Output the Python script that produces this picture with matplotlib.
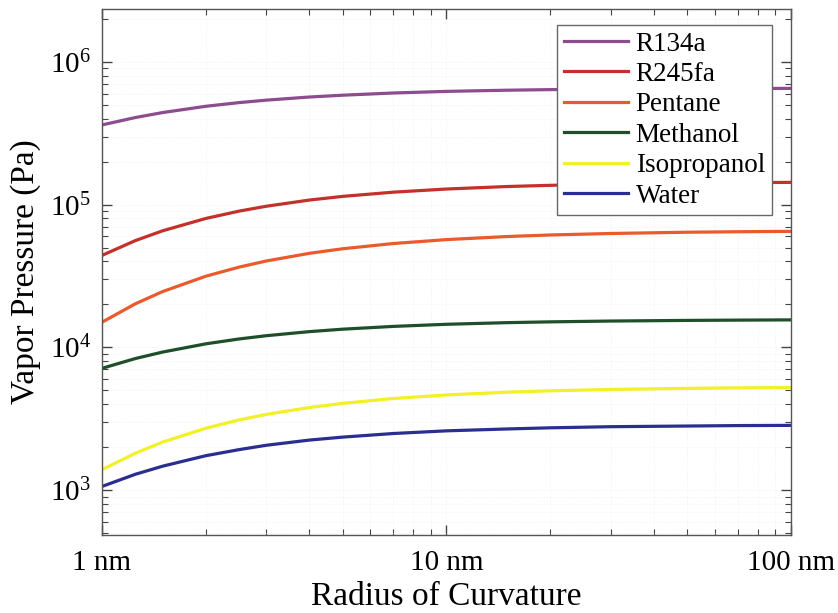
import numpy as np
import matplotlib.pyplot as plt
from matplotlib.ticker import FixedLocator, LogLocator, NullFormatter

plt.rcParams['font.family'] = ['Liberation Serif', 'DejaVu Serif']
plt.rcParams['mathtext.fontset'] = 'stix'

# radio de curvatura (nm)
radius = [1, 1.25, 1.5, 2, 2.5, 3, 4, 5, 7, 10, 15, 20, 30, 50, 70, 100]

# presion de vapor (Pa)
r134a = [3.62e5, 4.08e5, 4.42e5, 4.89e5, 5.19e5, 5.40e5, 5.68e5, 5.85e5,
         6.06e5, 6.22e5, 6.34e5, 6.40e5, 6.46e5, 6.50e5, 6.52e5, 6.53e5]
r245fa = [4.41e4, 5.60e4, 6.56e4, 8.00e4, 9.01e4, 9.75e4, 1.077e5, 1.143e5,
          1.223e5, 1.287e5, 1.34e5, 1.366e5, 1.394e5, 1.416e5, 1.425e5, 1.433e5]
pentane = [1.50e4, 2.02e4, 2.46e4, 3.15e4, 3.65e4, 4.03e4, 4.56e4, 4.91e4,
           5.34e4, 5.69e4, 5.98e4, 6.13e4, 6.28e4, 6.41e4, 6.46e4, 6.50e4]
methanol = [7.13e3, 8.35e3, 9.27e3, 1.058e4, 1.145e4, 1.207e4, 1.289e4, 1.341e4,
            1.402e4, 1.451e4, 1.49e4, 1.509e4, 1.529e4, 1.545e4, 1.552e4, 1.558e4]
isopropanol = [1.39e3, 1.81e3, 2.17e3, 2.71e3, 3.10e3, 3.39e3, 3.79e3, 4.05e3,
               4.38e3, 4.64e3, 4.85e3, 4.96e3, 5.07e3, 5.16e3, 5.20e3, 5.23e3]
water = [1.06e3, 1.29e3, 1.47e3, 1.74e3, 1.92e3, 2.06e3, 2.24e3, 2.35e3,
         2.49e3, 2.60e3, 2.68e3, 2.73e3, 2.78e3, 2.81e3, 2.83e3, 2.84e3]

labels = ['R134a', 'R245fa', 'Pentane', 'Methanol', 'Isopropanol', 'Water']
colors = ['#8c4c8e', '#c4302a', '#ea5a2c', '#1f4f2a', '#f2f026', '#2a2e8e']
series = [r134a, r245fa, pentane, methanol, isopropanol, water]

x_ticks = [1, 10, 100]
x_ticklabels = ['1 nm', '10 nm', '100 nm']

fig = plt.figure(figsize=(8.38, 6.13), dpi=100)
ax = fig.add_axes([0.1217, 0.1272, 0.8222, 0.8581])

for y, lab, c in zip(series, labels, colors):
    ax.plot(radius, y, color=c, lw=2.3, label=lab)

ax.set_xscale('log')
ax.set_yscale('log')
ax.set_xlim(1, 100)
ax.set_ylim(484, 2.35e6)

ax.xaxis.set_major_locator(FixedLocator(x_ticks))
ax.set_xticklabels(x_ticklabels)
ax.xaxis.set_minor_locator(LogLocator(base=10, subs=np.arange(2, 10)))
ax.xaxis.set_minor_formatter(NullFormatter())
ax.yaxis.set_major_locator(LogLocator(base=10, numticks=10))
ax.yaxis.set_minor_locator(LogLocator(base=10, subs=np.arange(2, 10), numticks=20))
ax.yaxis.set_minor_formatter(NullFormatter())

ax.tick_params(which='both', direction='in', top=True, right=True,
               color='#444444', labelsize=21)
ax.tick_params(which='major', length=7, width=1)
ax.tick_params(which='minor', length=4, width=0.8)
ax.tick_params(axis='x', pad=11)
ax.tick_params(axis='y', pad=8)

# rejilla casi invisible como en el original
ax.grid(True, which='both', ls=':', lw=0.5, color='#ececec')
for s in ax.spines.values():
    s.set_color('#555555')
    s.set_linewidth(1)

ax.set_xlabel('Radius of Curvature', fontsize=24, labelpad=4)
ax.set_ylabel('Vapor Pressure (Pa)', fontsize=24, labelpad=6)

leg = ax.legend(loc='upper right', bbox_to_anchor=(0.972, 0.970), borderaxespad=0,
                fontsize=19.5, fancybox=False, framealpha=1, edgecolor='#666666',
                handlelength=2.35, labelspacing=0.2, handletextpad=0.3,
                borderpad=0.25)
leg.get_frame().set_linewidth(1)

fig.savefig('out.png', dpi=100)
